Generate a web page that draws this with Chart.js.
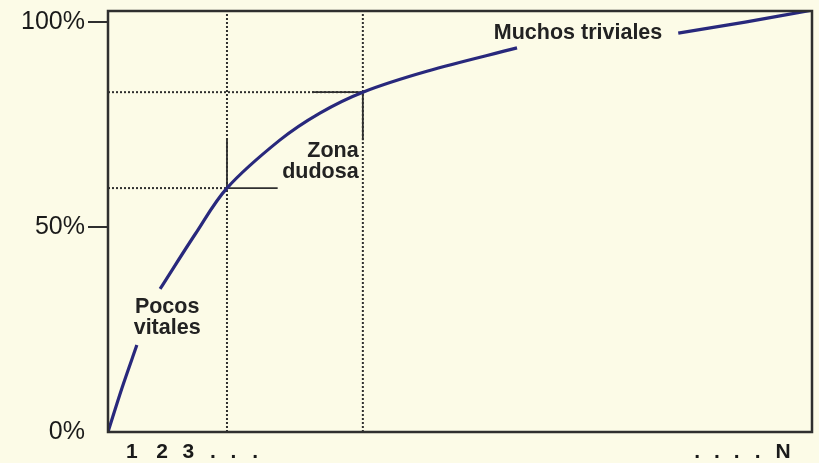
<!DOCTYPE html>
<html>
<head>
<meta charset="utf-8">
<script src="https://cdn.jsdelivr.net/npm/chart.js@4"></script>
<style>
    body { margin: 0; background: #fcfbe7; }
    #wrap { width: 819px; height: 463px; position: relative; }
</style>
</head>
<body>
<div id="wrap"><canvas id="paretoChart"></canvas></div>
<script>
// cumulative share of effect (%) vs share of causes (0..100 = 1..N)
const curveX = [0, 2.0, 4.1, 5.5, 7.4, 12.4, 16.9, 24.4, 30.1, 36.2, 45.3, 58.1, 70, 81.0, 90.5, 100];
const curveY = [0, 10.8, 21.2, null, 34.9, 48.3, 59.5, 71.2, 77.8, 82.9, 88.0, 93.7, null, 97.3, 100, 102.9];

// the two cut points (vital few / doubtful zone / trivial many)
const cutX = [16.9, 36.2];
const cutY = [59.5, 82.9];

const yTickValues = [0, 50, 100];
const yTickLabels = ["0%", "50%", "100%"];

const xTickValues = [3.4, 7.7, 11.4, 14.9, 17.8, 20.9, 83.7, 86.5, 89.3, 92.3, 95.9];
const xTickLabels = ["1", "2", "3", ".", ".", ".", ".", ".", ".", ".", "N"];

const notes = [
    { lines: ["Pocos", "vitales"], x: 8.4, y: 30.5, align: "center" },
    { lines: ["Zona", "dudosa"], x: 35.6, y: 68.6, align: "right" },
    { lines: ["Muchos triviales"], x: 54.8, y: 97.3, align: "left" }
];

const Y_MAX = 102.7;
const ink = "#2f2f2f";
const curveColor = "#28287c";

function seg(x1, y1, x2, y2, dashed) {
    return {
        type: "line",
        data: [{ x: x1, y: y1 }, { x: x2, y: y2 }],
        borderColor: ink,
        borderWidth: dashed ? 2 : 1.8,
        borderDash: dashed ? [2, 2] : [],
        pointRadius: 0,
        tension: 0
    };
}

const refLines = [
    seg(cutX[0], 0, cutX[0], Y_MAX, true),
    seg(cutX[1], 0, cutX[1], Y_MAX, true),
    seg(0, cutY[0], cutX[0], cutY[0], true),
    seg(0, cutY[1], cutX[1], cutY[1], true),
    // little solid crosses at the cut points
    seg(cutX[0], cutY[0], cutX[0], 71.7, false),
    seg(cutX[0], cutY[0], 24.1, cutY[0], false),
    seg(29.0, cutY[1], cutX[1], cutY[1], false),
    seg(cutX[1], cutY[1], cutX[1], 71.2, false)
];

const framePlugin = {
    id: "frame",
    beforeDraw(chart) {
        const c = chart.ctx;
        c.save();
        c.fillStyle = "#fcfbe7";
        c.fillRect(0, 0, chart.width, chart.height);
        c.restore();
    },
    afterDraw(chart) {
        const c = chart.ctx;
        const a = chart.chartArea;
        const xs = chart.scales.x;
        const ys = chart.scales.y;
        c.save();
        c.strokeStyle = ink;
        c.lineWidth = 2.5;
        c.strokeRect(a.left, a.top, a.right - a.left, a.bottom - a.top);

        c.fillStyle = "#222";
        c.font = "bold 21.5px 'Liberation Sans', Arial, sans-serif";
        c.textBaseline = "middle";
        notes.forEach(n => {
            c.textAlign = n.align;
            const px = xs.getPixelForValue(n.x);
            const py = ys.getPixelForValue(n.y);
            n.lines.forEach((t, i) => c.fillText(t, px, py + i * 21));
        });
        c.restore();
    }
};

const ctx = document.getElementById("paretoChart").getContext("2d");

new Chart(ctx, {
    type: "line",
    data: {
        datasets: [
            {
                data: curveX.map((x, i) => ({ x: x, y: curveY[i] })),
                borderColor: curveColor,
                borderWidth: 3.2,
                pointRadius: 0,
                spanGaps: false,
                tension: 0.35
            },
            ...refLines
        ]
    },
    options: {
        responsive: true,
        maintainAspectRatio: false,
        animation: false,
        layout: { padding: { top: 11, right: 7, left: 0, bottom: 0 } },
        plugins: { legend: { display: false }, tooltip: { enabled: false } },
        scales: {
            x: {
                type: "linear",
                min: 0,
                max: 100,
                afterBuildTicks: s => { s.ticks = xTickValues.map(v => ({ value: v })); },
                afterFit: s => { s.height = 31; s.paddingLeft = 0; s.paddingRight = 0; },
                grid: { display: false },
                border: { display: false },
                ticks: {
                    autoSkip: false,
                    maxRotation: 0,
                    padding: 0,
                    color: "#1a1a1a",
                    font: { family: "'Liberation Sans', Arial, sans-serif", size: 21, weight: "bold" },
                    callback: (v, i) => xTickLabels[i]
                }
            },
            y: {
                min: 0,
                max: Y_MAX,
                afterBuildTicks: s => { s.ticks = yTickValues.map(v => ({ value: v })); },
                afterFit: s => { s.width = 108; s.paddingTop = 0; s.paddingBottom = 0; },
                grid: {
                    drawOnChartArea: false,
                    drawTicks: true,
                    tickLength: 20,
                    lineWidth: 2,
                    color: c => (c.tick && c.tick.value === 0 ? "rgba(0,0,0,0)" : ink)
                },
                border: { display: false },
                ticks: {
                    padding: 3,
                    color: "#1a1a1a",
                    font: { family: "'Liberation Sans', Arial, sans-serif", size: 25 },
                    callback: (v, i) => yTickLabels[i]
                }
            }
        }
    },
    plugins: [framePlugin]
});
</script>
</body>
</html>
